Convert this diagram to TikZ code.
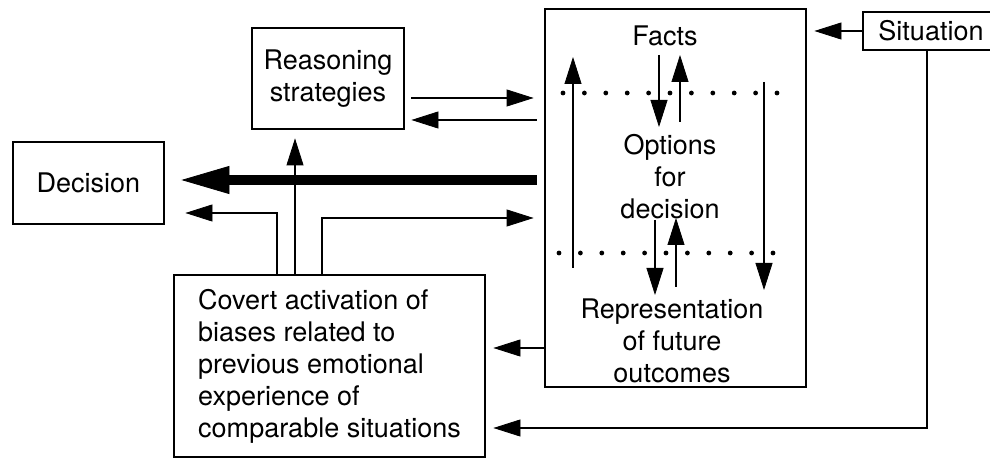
\documentclass[tikz,border=0pt]{standalone}
\usepackage{fontspec}
\setmainfont{TeX Gyre Heros}
\usetikzlibrary{arrows.meta, calc}

\tikzset{
  box/.style={draw, line width=1.4pt, inner sep=0pt, align=center},
  txt/.style={inner sep=0pt, align=center},
  arr/.style={line width=1.2pt, -{Triangle[length=13.5pt, width=8.5pt, line width=0.4pt]}},
  bigarr/.style={line width=5pt, -{Triangle[length=24pt, width=14pt, line width=0.4pt]}},
  dots/.style={line width=2.4pt, line cap=round, dash pattern=on 0pt off 10.7pt},
}

\begin{document}
\begin{tikzpicture}[x=0.5pt, y=-0.5pt, font=\fontsize{13.5}{16}\selectfont]

  \useasboundingbox (0,0) rectangle (990,459);

  % boxes
  \node[box, minimum width=76pt, minimum height=50.5pt] (reason) at (328,78.5) {Reasoning\\strategies};
  \node[box, minimum width=75.5pt, minimum height=41pt] (decision) at (88.5,183) {Decision};
  \node[box, minimum width=155.5pt, minimum height=91pt, align=left] (covert) at (329.5,366)
    {Covert activation of\\biases related to\\previous emotional\\experience of\\comparable situations};
  \node[box, minimum width=130.5pt, minimum height=189pt] (frame) at (675.5,198) {};
  \node[box, minimum width=68pt, minimum height=19pt] (situation) at (931,31) {Situation};

  % inside the frame
  \node[txt] (facts) at (665,36) {Facts};
  \node[txt] (options) at (670,177) {Options\\for\\decision};
  \node[txt] (outcomes) at (672,341) {Representation\\of future\\outcomes};

  \draw[dots] (563,93) -- (777,93);
  \draw[dots] (559,253) -- (773,253);

  % arrow ends in the frame
  \coordinate (up1)  at (573,268);
  \coordinate (up2)  at (573,57);
  \coordinate (dn1)  at (764,82);
  \coordinate (dn2)  at (764,290);
  \coordinate (fo1)  at (659,55);
  \coordinate (fo2)  at (659,127);
  \coordinate (of1)  at (680,122);
  \coordinate (of2)  at (680,55);
  \coordinate (or1)  at (655,220);
  \coordinate (or2)  at (655,295);
  \coordinate (ro1)  at (676,287);
  \coordinate (ro2)  at (676,218);

  \draw[arr] (up1) -- (up2);
  \draw[arr] (dn1) -- (dn2);
  \draw[arr] (fo1) -- (fo2);
  \draw[arr] (of1) -- (of2);
  \draw[arr] (or1) -- (or2);
  \draw[arr] (ro1) -- (ro2);

  % situation
  \draw[arr, shorten >=3.5pt] (situation.west) -- (situation.west -| frame.east);
  \draw[arr, shorten >=3.5pt] (situation.south -| 927,0) |- (covert.east |- 0,428);

  % frame to the left
  \draw[arr, shorten >=3.5pt] (frame.west |- 0,348) -- (covert.east |- 0,348);
  \draw[bigarr, shorten <=3.5pt, shorten >=8pt] (frame.west |- 0,180) -- (decision.east |- 0,180);
  \draw[arr, shorten <=3pt, shorten >=5pt] (reason.east |- 0,98) -- (frame.west |- 0,98);
  \draw[arr, shorten <=3.5pt, shorten >=3pt] (frame.west |- 0,120) -- (reason.east |- 0,120);

  % covert biases
  \draw[arr, shorten >=10pt] (covert.north -| 277,0) |- (decision.east |- 0,213);
  \draw[arr, shorten >=4pt] (covert.north -| 295,0) -- (reason.south -| 295,0);
  \draw[arr, shorten >=5pt] (covert.north -| 322,0) |- (frame.west |- 0,218);

\end{tikzpicture}
\end{document}
